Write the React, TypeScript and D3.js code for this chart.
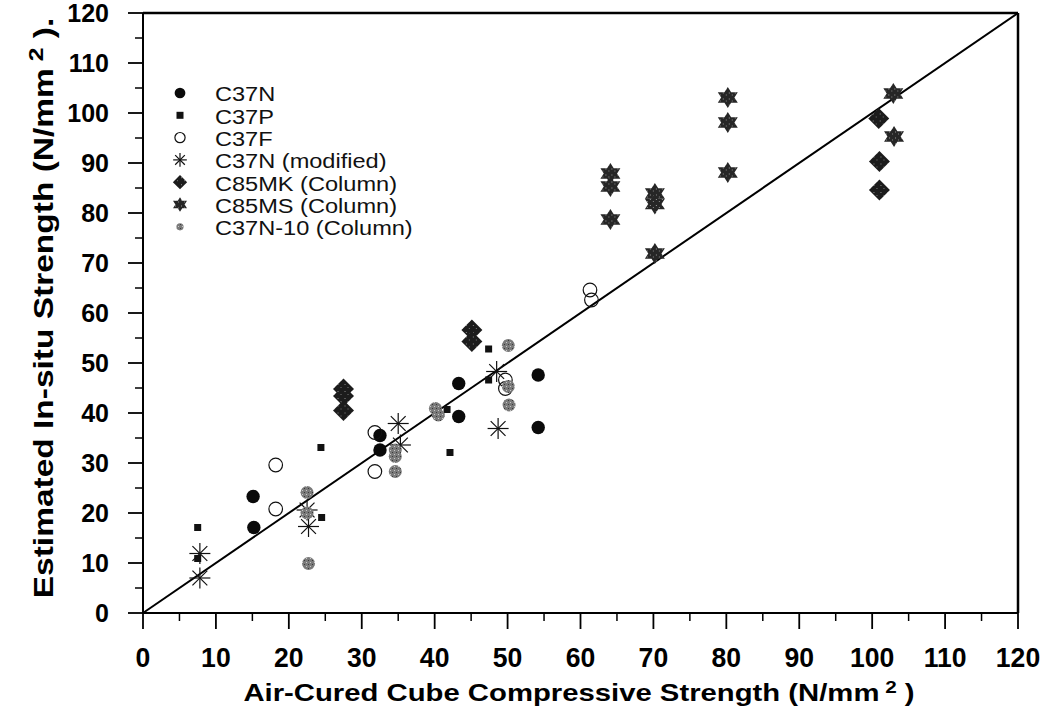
import React from 'react'
import * as d3 from 'd3'

type Pt = [number, number]

// values (x = air-cured cube, y = estimated in-situ)
const C37N: Pt[] = [
  [15.1, 23.3], [15.2, 17.1], [32.5, 35.5], [32.5, 32.6],
  [43.3, 45.9], [43.3, 39.3], [54.2, 47.6], [54.2, 37.1],
]
const C37P: Pt[] = [
  [7.5, 17.1], [7.5, 10.9], [24.4, 33.1], [24.5, 19.1],
  [42.1, 32.1], [47.4, 52.8], [47.4, 46.6], [41.7, 40.7],
]
const C37F: Pt[] = [
  [18.2, 29.6], [18.2, 20.8], [31.8, 36.1], [31.8, 28.3],
  [49.7, 46.6], [49.7, 44.9], [61.3, 64.6], [61.5, 62.6],
]
const C37N_MOD: Pt[] = [
  [7.8, 11.9], [7.8, 7.0], [22.5, 20.6], [22.7, 17.3],
  [35.0, 37.9], [35.3, 33.6], [48.5, 48.3], [48.7, 36.9],
]
const C85MK: Pt[] = [
  [27.5, 44.8], [27.5, 43.4], [27.5, 40.5], [45.1, 56.6], [45.1, 54.3],
  [100.9, 98.9], [101.0, 90.3], [101.0, 84.6],
]
const C85MS: Pt[] = [
  [64.1, 87.9], [64.1, 85.3], [64.1, 78.7],
  [70.2, 83.9], [70.2, 81.8], [70.2, 71.9],
  [80.2, 103.1], [80.2, 98.1], [80.2, 88.1],
  [102.9, 103.9], [103.0, 95.3],
]
const C37N_10: Pt[] = [
  [22.5, 24.1], [22.7, 9.9], [22.5, 20.0],
  [34.6, 32.6], [34.6, 31.3], [34.6, 28.3],
  [40.1, 40.9], [40.5, 39.6],
  [50.1, 45.3], [50.1, 53.5], [50.2, 41.6],
]

const SERIES_NAMES = [
  'C37N',
  'C37P',
  'C37F',
  'C37N (modified)',
  'C85MK (Column)',
  'C85MS (Column)',
  'C37N-10 (Column)',
]
const X_TICKS = [0, 10, 20, 30, 40, 50, 60, 70, 80, 90, 100, 110, 120]
const Y_TICKS = [0, 10, 20, 30, 40, 50, 60, 70, 80, 90, 100, 110, 120]
const MINOR_TICKS = [5, 15, 25, 35, 45, 55, 65, 75, 85, 95, 105, 115]

const W = 1046
const H = 716
const plot = { left: 143, right: 1018, top: 13, bottom: 613 }
const FONT = '"Liberation Sans", Arial, Helvetica, sans-serif'

const x = d3.scaleLinear().domain([0, 120]).range([plot.left, plot.right])
const y = d3.scaleLinear().domain([0, 120]).range([plot.bottom, plot.top])

type Kind = 'dot' | 'square' | 'open' | 'aster' | 'diamond' | 'star' | 'grey'
const KINDS: Kind[] = ['dot', 'square', 'open', 'aster', 'diamond', 'star', 'grey']

function hexagram(r: number) {
  const tri = (start: number) =>
    [0, 120, 240]
      .map((a) => {
        const t = ((start + a) * Math.PI) / 180
        return `${(Math.cos(t) * r * 1.1).toFixed(2)},${(Math.sin(t) * r).toFixed(2)}`
      })
      .join('L')
  return `M${tri(-90)}Z M${tri(90)}Z`
}

function Marker({ kind, cx, cy, s = 1 }: { kind: Kind; cx: number; cy: number; s?: number }) {
  const t = `translate(${cx},${cy})`
  switch (kind) {
    case 'dot':
      return <circle cx={cx} cy={cy} r={6.7 * s} fill="#0a0a0a" />
    case 'square': {
      const a = 7 * s
      return <rect x={cx - a / 2} y={cy - a / 2} width={a} height={a} fill="#111" />
    }
    case 'open':
      return <circle cx={cx} cy={cy} r={6.8 * s} fill="none" stroke="#111" strokeWidth={1.2} />
    case 'aster': {
      const r = 10.5 * s
      return (
        <g transform={t} stroke="#111" strokeWidth={1.2}>
          {[0, 45, 90, 135].map((a) => {
            const k = (a * Math.PI) / 180
            return (
              <line
                key={a}
                x1={-Math.cos(k) * r}
                y1={-Math.sin(k) * r}
                x2={Math.cos(k) * r}
                y2={Math.sin(k) * r}
              />
            )
          })}
        </g>
      )
    }
    case 'diamond': {
      const w = 10.5 * s
      const h = 10.5 * s
      return (
        <path
          transform={t}
          d={`M0,${-h}L${w},0L0,${h}L${-w},0Z`}
          fill="url(#speckDark)"
        />
      )
    }
    case 'star':
      return <path transform={t} d={hexagram(10.5 * s)} fill="url(#speckStar)" />
    case 'grey':
      return <circle cx={cx} cy={cy} r={6.5 * s} fill="url(#speckGrey)" />
  }
}

export default function App() {
  const data: Pt[][] = [C37N, C37P, C37F, C37N_MOD, C85MK, C85MS, C37N_10]
  const legendSize = [0.8, 1, 0.75, 0.65, 0.68, 0.7, 0.55]

  return (
    <svg
      width={W}
      height={H}
      style={{ position: 'absolute', left: 0, top: 0, background: '#fff' }}
      fontFamily={FONT}
    >
      <defs>
        <pattern id="speckDark" width="7" height="7" patternUnits="userSpaceOnUse">
          <rect width="7" height="7" fill="#1c1c1c" />
          <rect x="1" y="2" width="1" height="1" fill="#8a8a8a" />
          <rect x="4" y="5" width="1" height="1" fill="#777" />
        </pattern>
        <pattern id="speckStar" width="6" height="6" patternUnits="userSpaceOnUse">
          <rect width="6" height="6" fill="#262626" />
          <rect x="1" y="1" width="1" height="1" fill="#9a9a9a" />
          <rect x="4" y="3" width="1" height="1" fill="#888" />
        </pattern>
        <pattern id="speckGrey" width="4" height="4" patternUnits="userSpaceOnUse">
          <rect width="4" height="4" fill="#7a7a7a" />
          <rect x="0" y="0" width="1" height="1" fill="#3a3a3a" />
          <rect x="2" y="2" width="1" height="1" fill="#c8c8c8" />
        </pattern>
      </defs>

      {/* frame: top and right borders */}
      <line x1={plot.left} x2={plot.right} y1={plot.top} y2={plot.top} stroke="#000" strokeWidth={2.5} />
      <line x1={plot.right} x2={plot.right} y1={plot.top} y2={plot.bottom} stroke="#000" strokeWidth={2.5} />

      {/* axes */}
      <line x1={plot.left} x2={plot.right} y1={plot.bottom} y2={plot.bottom} stroke="#000" strokeWidth={2} />
      <line x1={plot.left} x2={plot.left} y1={plot.top} y2={plot.bottom} stroke="#000" strokeWidth={2} />

      {X_TICKS.map((v) => (
        <g key={'xt' + v}>
          <line x1={x(v)} x2={x(v)} y1={plot.bottom} y2={plot.bottom + 16} stroke="#000" strokeWidth={1.8} />
          <text
            transform={`translate(${x(v)},${667}) scale(0.95,1)`}
            textAnchor="middle"
            fontSize={28}
            fontWeight="bold"
          >
            {v}
          </text>
        </g>
      ))}
      {MINOR_TICKS.map((v) => (
        <line key={'xm' + v} x1={x(v)} x2={x(v)} y1={plot.bottom} y2={plot.bottom + 8} stroke="#000" strokeWidth={1.5} />
      ))}
      {Y_TICKS.map((v) => (
        <g key={'yt' + v}>
          <line x1={plot.left - 15} x2={plot.left} y1={y(v)} y2={y(v)} stroke="#000" strokeWidth={1.8} />
          <text x={109} y={y(v)} dy="0.36em" textAnchor="end" fontSize={25} fontWeight="bold">
            {v}
          </text>
        </g>
      ))}
      {MINOR_TICKS.map((v) => (
        <line key={'ym' + v} x1={plot.left - 8} x2={plot.left} y1={y(v)} y2={y(v)} stroke="#000" strokeWidth={1.5} />
      ))}

      {/* 1:1 line */}
      <line x1={x(0)} y1={y(0)} x2={x(120)} y2={y(120)} stroke="#000" strokeWidth={2} />

      {data.map((pts, i) =>
        pts.map((d, j) => <Marker key={i + '-' + j} kind={KINDS[i]} cx={x(d[0])} cy={y(d[1])} />)
      )}

      {/* legend */}
      {SERIES_NAMES.map((name, i) => {
        const ly = 94 + i * 22.3
        return (
          <g key={name}>
            <Marker kind={KINDS[i]} cx={180} cy={ly - 1} s={legendSize[i]} />
            <text
              transform={`translate(215,${ly}) scale(1.15,1)`}
              dy="0.36em"
              fontSize={20.5}
              fill="#111"
            >
              {name}
            </text>
          </g>
        )
      })}

      {/* axis titles */}
      <text
        transform="translate(579,701) scale(1.22,1)"
        textAnchor="middle"
        fontSize={24}
        fontWeight="bold"
      >
        Air-Cured Cube Compressive Strength (N/mm
        <tspan fontSize={17} dy={-8}> 2</tspan>
        <tspan dy={8}> )</tspan>
      </text>
      <text
        transform="translate(53,308) rotate(-90) scale(1.24,1)"
        textAnchor="middle"
        fontSize={27}
        fontWeight="bold"
      >
        Estimated In-situ Strength (N/mm
        <tspan fontSize={20} dy={-10}> 2</tspan>
        <tspan dy={10}> ).</tspan>
      </text>
    </svg>
  )
}
